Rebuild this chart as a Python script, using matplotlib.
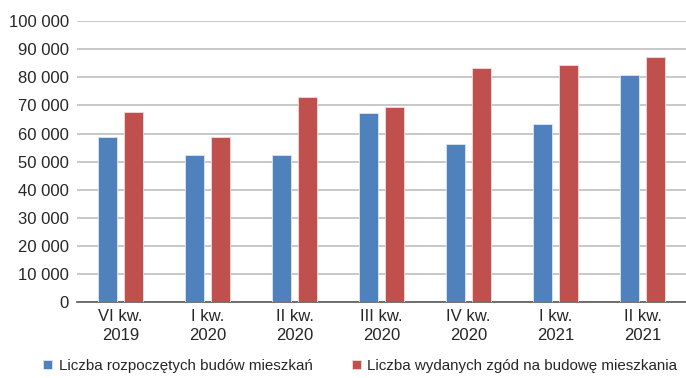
import matplotlib.pyplot as plt
import numpy as np
from matplotlib.ticker import FuncFormatter

plt.rcParams['font.family'] = ['Liberation Sans Narrow', 'Liberation Sans', 'DejaVu Sans']

categories = ["VI kw.\n2019", "I kw.\n2020", "II kw.\n2020", "III kw.\n2020",
              "IV kw.\n2020", "I kw.\n2021", "II kw.\n2021"]
rozpoczete = [58700, 52400, 52400, 67200, 56300, 63500, 80800]
pozwolenia = [67500, 58900, 72900, 69400, 83500, 84300, 87200]
series_names = ["Liczba rozpoczętych budów mieszkań",
                "Liczba wydanych zgód na budowę mieszkania"]

blue = "#4f81bd"
red = "#c0504d"
text_col = "#262626"

fig = plt.figure(figsize=(6.86, 3.78), dpi=100)
ax = fig.add_axes([0.1122, 0.201, 0.8878, 0.743])

x = np.arange(len(categories))
w = 0.22
ax.bar(x - 0.145, rozpoczete, w, color=blue, edgecolor="#dce6f2", linewidth=0.6,
       label=series_names[0], zorder=3)
ax.bar(x + 0.145, pozwolenia, w, color=red, edgecolor="#f2dcdb", linewidth=0.6,
       label=series_names[1], zorder=3)

ax.set_xlim(-0.5, len(categories) - 0.5)
ax.set_ylim(0, 100000)
ax.set_yticks(range(0, 100001, 10000))
ax.yaxis.set_major_formatter(FuncFormatter(lambda v, p: f"{int(v):,}".replace(",", " ")))
ax.grid(axis="y", color="#bfbfbf", linewidth=1.2, zorder=0)
ax.set_xticks(x)
ax.set_xticklabels(categories, linespacing=1.35)
for s in ["top", "right", "left"]:
    ax.spines[s].set_visible(False)
ax.spines["bottom"].set_color("#595959")
ax.spines["bottom"].set_linewidth(1.2)
ax.tick_params(axis="both", length=0, labelsize=12, colors=text_col, pad=6)
ax.tick_params(axis="x", pad=5)

fig.legend(loc="lower center", bbox_to_anchor=(0.525, -0.022), ncol=2, frameon=False,
           fontsize=10.9, labelcolor=text_col, handlelength=0.6, handleheight=0.6,
           handletextpad=0.4, columnspacing=2.6)

fig.savefig("out.png", dpi=100)
